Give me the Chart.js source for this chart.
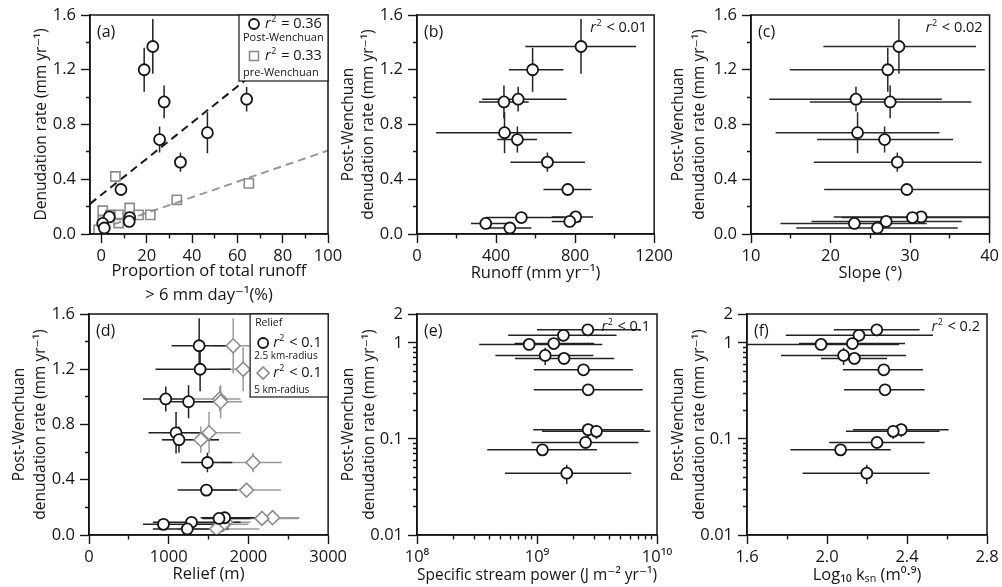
<!DOCTYPE html>
<html>
<head>
<meta charset="utf-8">
<script src="https://cdn.jsdelivr.net/npm/chart.js@4.4.1/dist/chart.umd.min.js"></script>
<style>
  body { margin: 0; background: #fff; }
  #wrap { position: relative; width: 1002px; height: 587px; overflow: hidden; background: #fff; }
  canvas { position: absolute; }
</style>
</head>
<body>
<div id="wrap">
  <canvas id="chartA"></canvas>
  <canvas id="chartB"></canvas>
  <canvas id="chartC"></canvas>
  <canvas id="chartD"></canvas>
  <canvas id="chartE"></canvas>
  <canvas id="chartF"></canvas>
</div>
<script>
// post-Wenchuan denudation rate (mm/yr) of the 13 catchments, shared by all panels
const rate = [1.37, 1.20, 0.985, 0.965, 0.74, 0.69, 0.525, 0.325, 0.125, 0.12, 0.092, 0.077, 0.044];
const rateErr = [0.2, 0.16, 0.09, 0.12, 0.15, 0.095, 0.07, 0.02, 0.02, 0.02, 0.015, 0.01, 0.01];

// (a) proportion of total runoff > 6 mm/day (%)
const heavyRunoff = [22.7, 18.9, 64.1, 27.7, 46.8, 25.7, 34.9, 8.65, 3.5, 12.5, 12.3, 0.6, 1.3];
const preHeavyRunoff = [6.2, 0.6, 7.6, 12.5, 16.4, 21.6, 33.3, 65.1, 0.6, 7.6, 12.0, -1.2, 4.0];
const preRate = [0.42, 0.17, 0.14, 0.19, 0.14, 0.14, 0.25, 0.37, 0.10, 0.08, 0.10, 0.03, 0.14];
const fitPostX = [-5, 64], fitPostY = [0.22, 1.13];
const fitPreX = [0, 100], fitPreY = [0.04, 0.61];

// (b) runoff (mm/yr)
const runoff = [830, 585, 512, 440, 443, 508, 660, 763, 803, 528, 773, 348, 470];
const runoffLo = [548, 465, 330, 314, 97, 406, 473, 640, 682, 348, 682, 273, 348];
const runoffHi = [1109, 741, 757, 565, 783, 607, 850, 883, 891, 741, 830, 473, 579];

// (c) slope (degrees)
const slope = [28.6, 27.2, 23.2, 27.5, 23.4, 26.8, 28.4, 29.6, 31.4, 30.3, 27.0, 23.0, 25.9];
const slopeLo = [19.1, 14.9, 12.3, 17.4, 13.1, 18.3, 17.9, 19.2, 20.4, 21.4, 17.6, 13.7, 15.7];
const slopeHi = [38.3, 39.4, 34.0, 37.7, 33.7, 35.4, 39.0, 41, 42, 42, 36.5, 32.1, 36.0];

// (d) relief (m), 2.5 km and 5 km radius
const relief25 = [1382, 1394, 963, 1249, 1092, 1129, 1486, 1473, 1702, 1631, 1286, 934, 1233];
const relief25Lo = [1037, 834, 676, 1000, 747, 913, 1154, 1112, 1400, 1423, 801, 676, 801];
const relief25Hi = [1797, 1776, 1320, 1610, 1465, 1631, 1797, 1859, 2100, 2026, 1901, 1776, 1750];
const relief5 = [1809, 1934, 1640, 1652, 1506, 1403, 2058, 1976, 2303, 2170, 1714, 1680, 1602];
const relief5Lo = [1550, 1650, 1300, 1341, 1195, 925, 1650, 1545, 1942, 1776, 1569, 1300, 1112];
const relief5Hi = [2100, 2200, 1900, 1921, 1901, 1631, 2419, 2407, 2640, 2627, 2026, 2000, 2138];

// (e) specific stream power (J m-2 yr-1)
const streamPower = [2.65e9, 1.66e9, 1.38e9, 8.6e8, 1.17e9, 1.68e9, 2.44e9, 2.67e9, 2.67e9, 3.13e9, 2.54e9, 1.11e9, 1.77e9];
const streamPowerLo = [1.0e9, 5.75e8, 6.5e8, 3.3e8, 4.5e8, 6.55e8, 9.4e8, 9.4e8, 9.3e8, 1.1e9, 9.0e8, 3.85e8, 5.4e8];
const streamPowerHi = [7.3e9, 4.6e9, 3.0e9, 3.5e9, 2.95e9, 4.4e9, 6.3e9, 7.6e9, 7.8e9, 8.8e9, 7.0e9, 3.16e9, 6.1e9];

// (f) log10 ksn
const ksn = [2.249, 2.16, 2.127, 1.97, 2.083, 2.137, 2.284, 2.29, 2.371, 2.331, 2.25, 2.068, 2.199];
const ksnLo = [2.035, 1.794, 1.86, 1.55, 1.77, 1.97, 2.08, 2.085, 2.13, 2.095, 2.011, 1.817, 1.878];
const ksnHi = [2.463, 2.53, 2.39, 2.36, 2.396, 2.30, 2.48, 2.488, 2.608, 2.563, 2.488, 2.319, 2.513];

// tick values (major ones get a label)
const rateMajor = [0, 0.4, 0.8, 1.2, 1.6], rateMinor = [0.2, 0.6, 1.0, 1.4];
const logRateMajor = [0.01, 0.1, 1, 2];
const logRateMinor = [0.02, 0.03, 0.04, 0.05, 0.06, 0.07, 0.08, 0.09, 0.2, 0.3, 0.4, 0.5, 0.6, 0.7, 0.8, 0.9];
const aMajor = [0, 20, 40, 60, 80, 100], aMinor = [10, 30, 50, 70, 90];
const bMajor = [0, 400, 800, 1200], bMinor = [200, 600, 1000];
const cMajor = [10, 20, 30, 40], cMinor = [15, 25, 35];
const dMajor = [0, 1000, 2000, 3000], dMinor = [500, 1500, 2500];
const eMajor = [1e8, 1e9, 1e10];
const eMinor = [2e8, 3e8, 4e8, 5e8, 6e8, 7e8, 8e8, 9e8, 2e9, 3e9, 4e9, 5e9, 6e9, 7e9, 8e9, 9e9];
const eLabels = { 1e8: '10⁸', 1e9: '10⁹', 1e10: '10¹⁰' };
const fMajor = [1.6, 2.0, 2.4, 2.8], fMinor = [1.8, 2.2, 2.6];

const FONT = '"Open Sans", "DejaVu Sans", sans-serif';
const INK = '#151515';
const GREY = '#8c8c8c';
const TICK_SIZE = 16.5, XTITLE_SIZE = 16.5, YTITLE_SIZE = 15.5;
Chart.defaults.font.family = FONT;
Chart.defaults.color = INK;

const pts = (xs, ys) => xs.map((x, i) => ({ x: x, y: ys[i] }));

// error bars, drawn under the markers through the chart scales
const errorBars = {
  id: 'errorBars',
  beforeDatasetsDraw(chart) {
    const { ctx, chartArea: a, scales: { x, y } } = chart;
    ctx.save();
    ctx.beginPath();
    ctx.rect(a.left, a.top, a.right - a.left, a.bottom - a.top);
    ctx.clip();
    const sets = chart.data.datasets;
    for (let d = sets.length - 1; d >= 0; d--) {
      const ds = sets[d];
      if (!ds.errX && !ds.errY) continue;
      ctx.strokeStyle = ds.errColor || INK;
      ctx.lineWidth = 1.5;
      ds.data.forEach((p, i) => {
        const px = x.getPixelForValue(p.x), py = y.getPixelForValue(p.y);
        ctx.beginPath();
        if (ds.errX) {
          ctx.moveTo(x.getPixelForValue(ds.errX[0][i]), py);
          ctx.lineTo(x.getPixelForValue(ds.errX[1][i]), py);
        }
        if (ds.errY) {
          ctx.moveTo(px, y.getPixelForValue(p.y - ds.errY[i]));
          ctx.lineTo(px, y.getPixelForValue(p.y + ds.errY[i]));
        }
        ctx.stroke();
      });
    }
    ctx.restore();
  }
};

function drawR2(ctx, x, y, rest, size, align) {
  const big = `${size}px ${FONT}`, it = `italic ${size}px ${FONT}`, sup = `${Math.round(size * 0.62)}px ${FONT}`;
  ctx.font = it; const w1 = ctx.measureText('r').width + 0.5;
  ctx.font = sup; const w2 = ctx.measureText('2').width + 1;
  ctx.font = big; const w3 = ctx.measureText(rest).width;
  const x0 = align === 'right' ? x - w1 - w2 - w3 : x;
  ctx.textAlign = 'left';
  ctx.textBaseline = 'middle';
  ctx.font = it; ctx.fillText('r', x0, y);
  ctx.font = sup; ctx.fillText('2', x0 + w1, y - size * 0.33);
  ctx.font = big; ctx.fillText(rest, x0 + w1 + w2, y);
}

// frame, panel letter and r2 note
const panelText = {
  id: 'panelText',
  afterDatasetsDraw(chart, args, o) {
    const { ctx, chartArea: a } = chart;
    ctx.save();
    ctx.strokeStyle = INK;
    ctx.lineWidth = 1.5;
    ctx.strokeRect(a.left, a.top, a.right - a.left, a.bottom - a.top);
    ctx.fillStyle = INK;
    ctx.textBaseline = 'middle';
    ctx.textAlign = 'left';
    ctx.font = `16px ${FONT}`;
    ctx.fillText(o.label, a.left + 7, a.top + 17);
    if (o.r2) drawR2(ctx, a.right - 7, a.top + 13, o.r2, 14.5, 'right');
    ctx.restore();
  }
};

const legendA = {
  id: 'legendA',
  afterDatasetsDraw(chart) {
    const { ctx, chartArea: a } = chart;
    const L = a.right - 89, T = a.top;
    ctx.save();
    ctx.fillStyle = '#fff';
    ctx.fillRect(L, T, 89, 66);
    ctx.strokeStyle = INK; ctx.lineWidth = 1.2;
    ctx.strokeRect(L, T, 89, 66);
    ctx.lineWidth = 1.8;
    ctx.beginPath(); ctx.arc(L + 15, T + 9, 5, 0, Math.PI * 2); ctx.stroke();
    ctx.strokeStyle = GREY; ctx.lineWidth = 1.6;
    ctx.strokeRect(L + 10.5, T + 36.5, 9, 9);
    ctx.fillStyle = INK;
    drawR2(ctx, L + 26, T + 9, ' = 0.36', 14.5, 'left');
    drawR2(ctx, L + 26, T + 41, ' = 0.33', 14.5, 'left');
    ctx.font = `11px ${FONT}`;
    ctx.fillText('Post-Wenchuan', L + 4, T + 23);
    ctx.fillText('pre-Wenchuan', L + 4, T + 58);
    ctx.restore();
  }
};

const legendD = {
  id: 'legendD',
  afterDatasetsDraw(chart) {
    const { ctx, chartArea: a } = chart;
    const L = a.right - 78, T = a.top;
    ctx.save();
    ctx.fillStyle = '#fff';
    ctx.fillRect(L, T, 78, 83);
    ctx.strokeStyle = INK; ctx.lineWidth = 1.2;
    ctx.strokeRect(L, T, 78, 83);
    ctx.lineWidth = 1.8;
    ctx.beginPath(); ctx.arc(L + 13, T + 29, 5, 0, Math.PI * 2); ctx.stroke();
    ctx.strokeStyle = GREY; ctx.lineWidth = 1.6;
    ctx.beginPath();
    ctx.moveTo(L + 13, T + 53); ctx.lineTo(L + 19, T + 59); ctx.lineTo(L + 13, T + 65); ctx.lineTo(L + 7, T + 59);
    ctx.closePath(); ctx.stroke();
    ctx.fillStyle = INK;
    ctx.textBaseline = 'middle';
    ctx.font = `10.5px ${FONT}`;
    ctx.fillText('Relief', L + 5, T + 9);
    drawR2(ctx, L + 23, T + 29, ' < 0.1', 14.5, 'left');
    drawR2(ctx, L + 23, T + 59, ' < 0.1', 14.5, 'left');
    ctx.font = `10px ${FONT}`;
    ctx.fillText('2.5 km-radius', L + 4, T + 42);
    ctx.fillText('5 km-radius', L + 4, T + 76);
    ctx.restore();
  }
};

function axis(o) {
  const all = o.major.concat(o.minor).sort((p, q) => p - q);
  return {
    type: o.type || 'linear',
    position: o.horizontal ? 'bottom' : 'left',
    min: o.min, max: o.max,
    afterBuildTicks: s => { s.ticks = all.map(v => ({ value: v })); },
    afterFit: s => { if (o.horizontal) s.height = o.size; else s.width = o.size; },
    border: { color: INK, width: 1.5 },
    grid: {
      drawOnChartArea: false, tickLength: 9, tickWidth: 1.4, tickColor: INK,
      tickBorderDash: c => (c.tick && o.major.includes(c.tick.value)) ? [] : (o.horizontal ? [4, 40] : [0, 5, 4, 40])
    },
    ticks: {
      autoSkip: false, maxRotation: 0, minRotation: 0,
      padding: o.horizontal ? 3 : 5, color: INK, font: { size: TICK_SIZE },
      callback: v => o.major.includes(v) ? o.fmt(v) : ''
    },
    title: {
      display: true, text: o.title, color: INK,
      font: { size: o.horizontal ? XTITLE_SIZE : YTITLE_SIZE, lineHeight: o.lh || 1.3 },
      padding: o.horizontal ? { top: 0, bottom: o.pad } : { top: o.pad, bottom: 0 }
    }
  };
}

function panel(id, box, area, cfg) {
  const cv = document.getElementById(id);
  cv.width = box.w; cv.height = box.h;
  cv.style.left = box.l + 'px'; cv.style.top = box.t + 'px';
  return new Chart(cv, {
    type: 'scatter',
    data: { datasets: cfg.datasets },
    options: {
      responsive: false, animation: false, devicePixelRatio: 1,
      layout: { padding: { left: 0, top: area.t - box.t, right: box.l + box.w - area.r, bottom: 0 } },
      scales: {
        x: axis(Object.assign({ horizontal: true, size: box.t + box.h - area.b }, cfg.x)),
        y: axis(Object.assign({ size: area.l - box.l }, cfg.y))
      },
      plugins: {
        legend: { display: false },
        tooltip: { enabled: false },
        panelText: { label: cfg.label, r2: cfg.r2 }
      }
    },
    plugins: [errorBars, panelText].concat(cfg.plugins || [])
  });
}

const circle = (data, extra) => Object.assign({
  data: data, pointStyle: 'circle', pointRadius: 5.5, borderWidth: 1.8,
  borderColor: INK, backgroundColor: '#fff', errColor: '#222'
}, extra);

const rateAxis = {
  min: 0, max: 1.6, major: rateMajor, minor: rateMinor, fmt: v => v.toFixed(1),
  title: ['Post-Wenchuan', 'denudation rate (mm yr⁻¹)']
};
const logRateAxis = {
  type: 'logarithmic', min: 0.01, max: 2, major: logRateMajor, minor: logRateMinor, fmt: v => String(v),
  title: ['Post-Wenchuan', 'denudation rate (mm yr⁻¹)']
};

panel('chartA', { l: 0, t: 0, w: 350, h: 308 }, { l: 90, r: 328, t: 15, b: 234 }, {
  label: '(a)',
  datasets: [
    circle(pts(heavyRunoff, rate), { errY: rateErr }),
    { data: pts(preHeavyRunoff, preRate), pointStyle: 'rect', pointRadius: 6.5, borderWidth: 1.6,
      borderColor: GREY, backgroundColor: 'rgba(255,255,255,0)' },
    { data: pts(fitPostX, fitPostY), showLine: true, pointRadius: 0, borderColor: '#1a1a1a',
      borderWidth: 2, borderDash: [8, 5] },
    { data: pts(fitPreX, fitPreY), showLine: true, pointRadius: 0, borderColor: '#999',
      borderWidth: 2, borderDash: [8, 5] }
  ],
  x: { min: -5, max: 100, major: aMajor, minor: aMinor, fmt: v => String(v),
       title: ['Proportion of total runoff', '> 6 mm day⁻¹(%)'], lh: 1.45, pad: 1 },
  y: { min: 0, max: 1.6, major: rateMajor, minor: rateMinor, fmt: v => v.toFixed(1),
       title: 'Denudation rate (mm yr⁻¹)', pad: 32 },
  plugins: [legendA]
});

panel('chartB', { l: 336, t: 0, w: 340, h: 290 }, { l: 417, r: 657, t: 15, b: 234 }, {
  label: '(b)', r2: ' < 0.01',
  datasets: [circle(pts(runoff, rate), { errX: [runoffLo, runoffHi], errY: rateErr })],
  x: { min: 0, max: 1200, major: bMajor, minor: bMinor, fmt: v => String(v), title: 'Runoff (mm yr⁻¹)', pad: 7, lh: 1.2 },
  y: Object.assign({ pad: 2.7 }, rateAxis)
});

panel('chartC', { l: 666, t: 0, w: 336, h: 290 }, { l: 751, r: 990, t: 15, b: 234 }, {
  label: '(c)', r2: ' < 0.02',
  datasets: [circle(pts(slope, rate), { errX: [slopeLo, slopeHi], errY: rateErr, errColor: '#2a2a2a' })],
  x: { min: 10, max: 40, major: cMajor, minor: cMinor, fmt: v => String(v), title: 'Slope (°)', pad: 7, lh: 1.2 },
  y: Object.assign({ pad: 2.9 }, rateAxis)
});

panel('chartD', { l: 0, t: 298, w: 350, h: 295 }, { l: 89, r: 330, t: 314, b: 535 }, {
  label: '(d)',
  datasets: [
    circle(pts(relief25, rate), { errX: [relief25Lo, relief25Hi], errY: rateErr }),
    { data: pts(relief5, rate), pointStyle: 'rectRot', pointRadius: 7, borderWidth: 1.6,
      borderColor: GREY, backgroundColor: '#fff', errX: [relief5Lo, relief5Hi], errY: rateErr, errColor: '#9a9a9a' }
  ],
  x: { min: 0, max: 3000, major: dMajor, minor: dMinor, fmt: v => String(v), title: 'Relief (m)', pad: 9, lh: 1.2 },
  y: Object.assign({ pad: 9.9 }, rateAxis),
  plugins: [legendD]
});

panel('chartE', { l: 336, t: 298, w: 340, h: 295 }, { l: 417, r: 657, t: 314, b: 535 }, {
  label: '(e)', r2: ' < 0.1',
  datasets: [circle(pts(streamPower, rate), { errX: [streamPowerLo, streamPowerHi], errY: rateErr })],
  x: { type: 'logarithmic', min: 1e8, max: 1e10, major: eMajor, minor: eMinor, fmt: v => eLabels[v],
       title: 'Specific stream power (J m⁻² yr⁻¹)', pad: 7.5, lh: 1.2 },
  y: Object.assign({ pad: 2.9 }, logRateAxis)
});

panel('chartF', { l: 666, t: 298, w: 336, h: 295 }, { l: 747, r: 987, t: 314, b: 535 }, {
  label: '(f)', r2: ' < 0.2',
  datasets: [circle(pts(ksn, rate), { errX: [ksnLo, ksnHi], errY: rateErr })],
  x: { min: 1.6, max: 2.8, major: fMajor, minor: fMinor, fmt: v => v.toFixed(1),
       title: 'Log₁₀ kₛₙ (m⁰·⁹)', pad: 7.5, lh: 1.2 },
  y: Object.assign({ pad: 2.9 }, logRateAxis)
});
</script>
</body>
</html>
